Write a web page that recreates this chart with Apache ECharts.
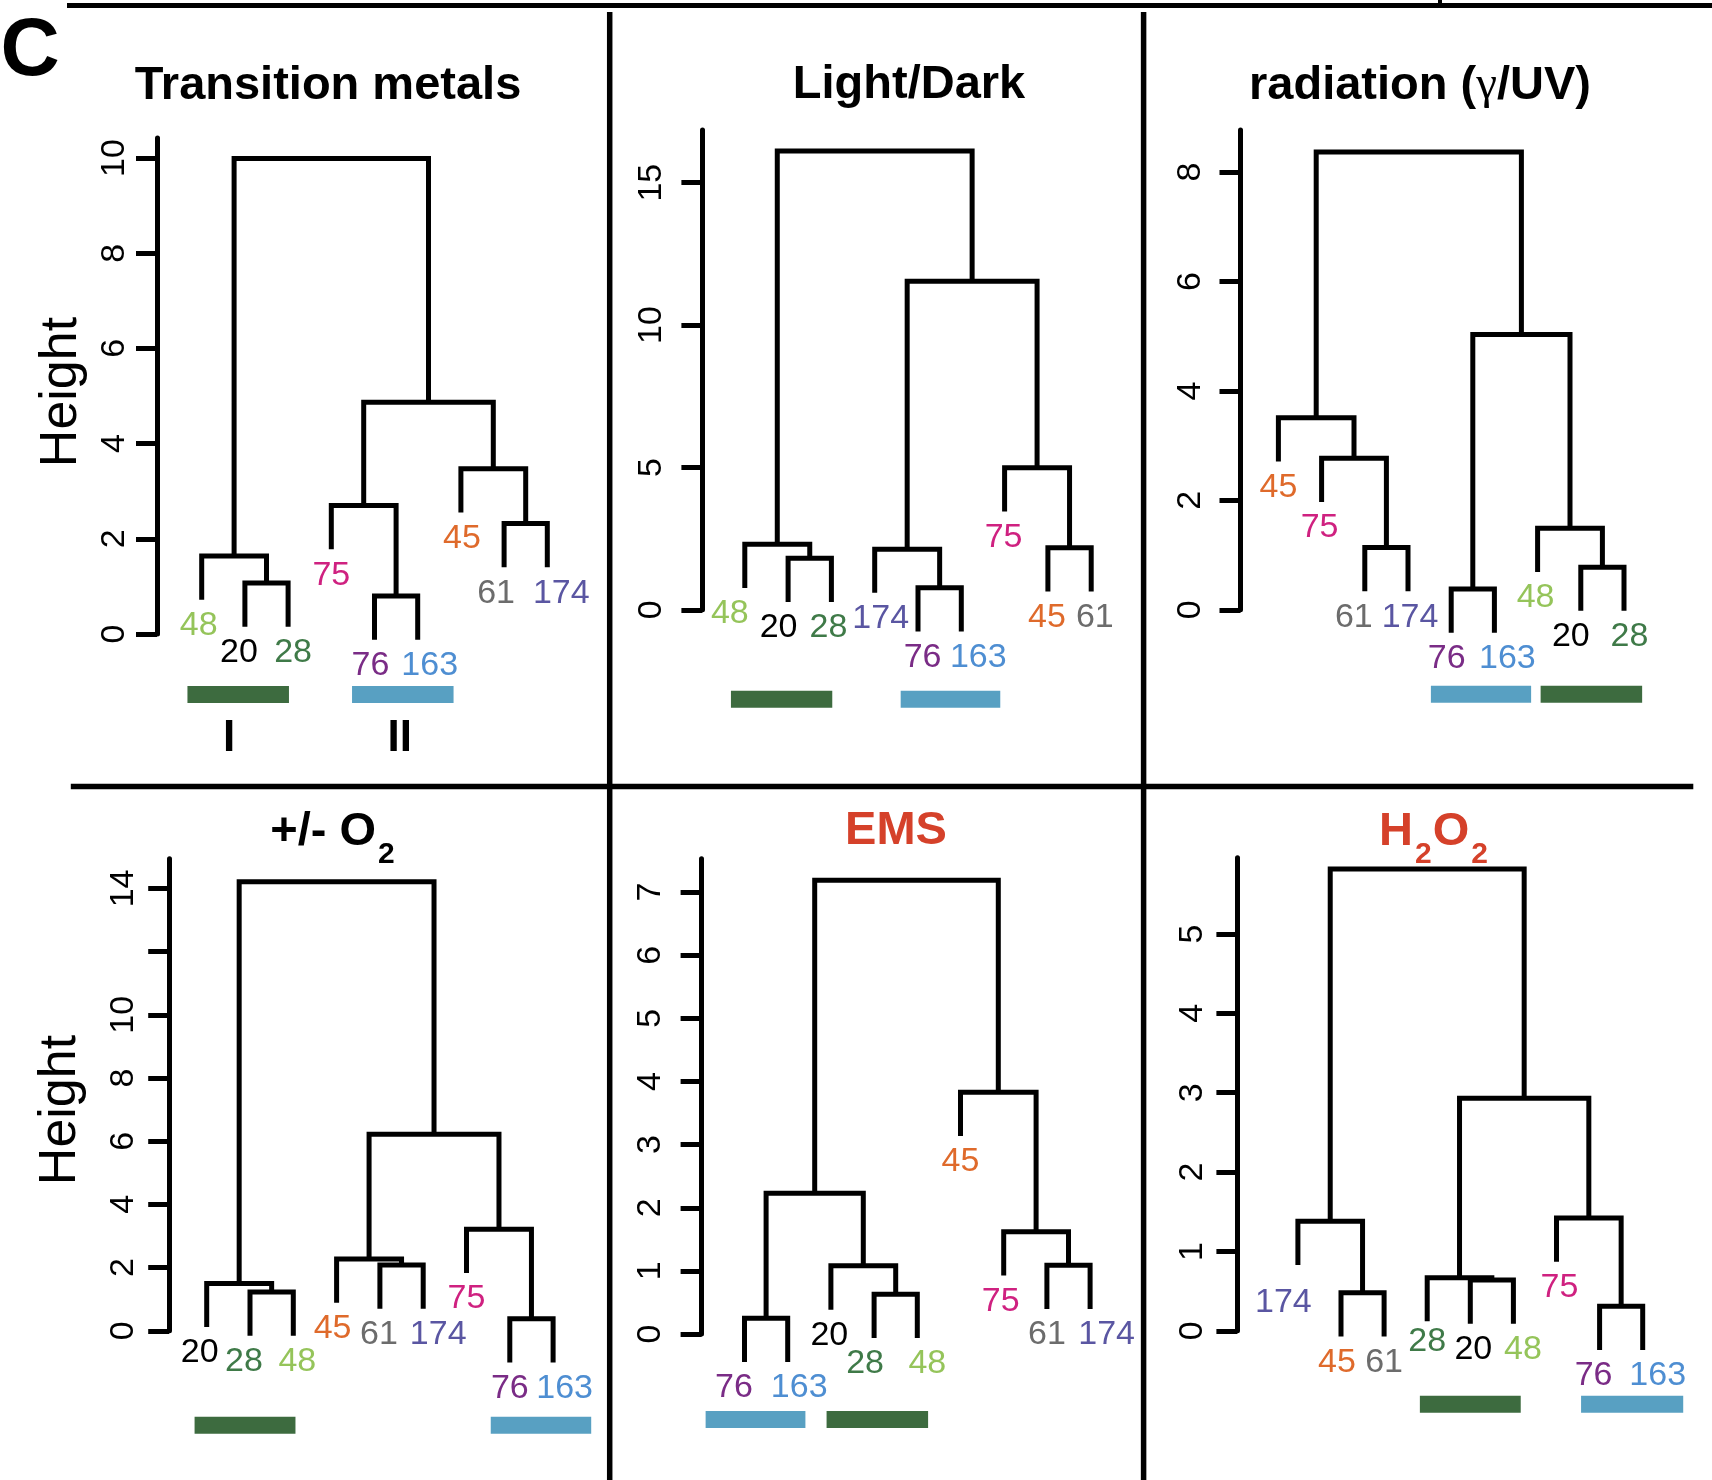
<!DOCTYPE html>
<html><head><meta charset="utf-8">
<script src="https://cdn.jsdelivr.net/npm/echarts@6/dist/echarts.min.js"></script>
<style>html,body{margin:0;padding:0;background:#fff}#c{width:1712px;height:1480px}</style>
</head><body><div id="c"></div>
<script>
// ================= DATA =================
// Leaf order (left to right) for each dendrogram
const leavesTM  = ['48','20','28','75','76','163','45','61','174'];
const leavesLD  = ['48','20','28','174','76','163','75','45','61'];
const leavesRAD = ['45','75','61','174','76','163','48','20','28'];
const leavesO2  = ['20','28','48','45','61','174','75','76','163'];
const leavesEMS = ['76','163','20','28','48','45','75','61','174'];
const leavesH2O2= ['174','45','61','28','20','48','75','76','163'];

// Merges (R hclust style): negative = leaf position (1-based), positive = earlier merge (1-based); third = height
const mergesTM  = [[-2,-3,1.07],[-1,1,1.64],[-5,-6,0.80],[-4,3,2.70],[-8,-9,2.32],[-7,5,3.47],[4,6,4.87],[2,7,9.99]];
const mergesLD  = [[-2,-3,1.81],[-1,1,2.30],[-5,-6,0.77],[-4,3,2.13],[-8,-9,2.18],[-7,5,4.99],[4,6,11.54],[2,7,16.11]];
const mergesRAD = [[-3,-4,1.14],[-2,1,2.77],[-1,2,3.51],[-5,-6,0.38],[-8,-9,0.78],[-7,5,1.49],[4,6,5.03],[3,7,8.37]];
const mergesO2  = [[-2,-3,1.23],[-1,1,1.50],[-5,-6,2.08],[-4,3,2.27],[-8,-9,0.38],[-7,5,3.21],[4,6,6.22],[2,7,14.21]];
const mergesEMS = [[-1,-2,0.25],[-4,-5,0.63],[-3,2,1.08],[1,3,2.23],[-8,-9,1.09],[-7,5,1.62],[-6,6,3.83],[4,7,7.19]];
const mergesH2O2= [[-2,-3,0.48],[-1,1,1.38],[-5,-6,0.64],[-4,3,0.67],[-8,-9,0.31],[-7,5,1.42],[4,6,2.93],[2,7,5.82]];

// Cluster groups: [group, from leaf pos, to leaf pos]
const groupsTM  = [['I',-0.33,2.02],['II',3.48,5.83]];
const groupsLD  = [['I',-0.32,2.02],['II',3.60,5.90]];
const groupsRAD = [['II',3.53,5.85],['I',6.07,8.42]];
const groupsO2  = [['I',-0.28,2.05],['II',6.56,8.88]];
const groupsEMS = [['II',-0.90,1.41],['I',1.90,4.25]];
const groupsH2O2= [['I',2.83,5.17],['II',6.57,8.94]];

// Axis ticks / labels / upper end of axis
const ticksTM  = [0,2,4,6,8,10];          const tickLabelsTM  = [0,2,4,6,8,10];
const ticksLD  = [0,5,10,15];             const tickLabelsLD  = [0,5,10,15];
const ticksRAD = [0,2,4,6,8];             const tickLabelsRAD = [0,2,4,6,8];
const ticksO2  = [0,2,4,6,8,10,12,14];    const tickLabelsO2  = [0,2,4,6,8,10,14];
const ticksEMS = [0,1,2,3,4,5,6,7];       const tickLabelsEMS = [0,1,2,3,4,5,6,7];
const ticksH2O2= [0,1,2,3,4,5];           const tickLabelsH2O2= [0,1,2,3,4,5];
const yMaxes = [10.42, 16.85, 8.77, 14.94, 7.53, 5.96];

const panelTitles = ['Transition metals','Light/Dark','radiation ({g|γ}/UV)','+/- O{s|2}','EMS','H{s|2}O{s|2}'];

// ================= STYLE / LAYOUT =================
const FONT = '"Liberation Sans", Arial, Helvetica, sans-serif';
const labelColors = {'48':'#95c45a','20':'#000000','28':'#3f7a48','75':'#cf2180','76':'#7a2c86',
                     '163':'#4e8ed2','45':'#df6a2b','61':'#6c6c6c','174':'#5a56a2'};
const groupColors = {'I':'#3d6b3f','II':'#58a0c2'};
const RED = '#d5412a';
const LW = 5;

// label nudges (pixels) by leaf position, to keep neighbouring labels apart
const nudgeTM  = [-3,-6,5,0,-4,12,1,-8,14];
const nudgeLD  = [-15,-9.5,-3,6,4.6,17,-1,-1,3.6];
const nudgeRAD = [0,-2,-11,2,-4.5,13,-2,-10,5.5];
const nudgeO2  = [-7,-6,4,-4,-1,15,0,0,11.5];
const nudgeEMS = [-10.5,11.5,-1.6,-9,10,0,-3,0,16.5];
const nudgeH2O2= [-14.5,-4,0,0,3,9.5,3,-6,15];
const nudgeYH2O2 = [12,0,0,-6,0,0,0,0,0];

const PANELS = [
 {leaves:leavesTM, merges:mergesTM, groups:groupsTM, ticks:ticksTM, tl:tickLabelsTM, title:panelTitles[0], tc:'#000', dx:nudgeTM,
  L:{axisX:157, topY:138, zeroY:634, leaf0X:201.7, sp:43.2, barOff:52, lm:25}, tp:[328,86], groupText:true, height:[62,392]},
 {leaves:leavesLD, merges:mergesLD, groups:groupsLD, ticks:ticksLD, tl:tickLabelsLD, title:panelTitles[1], tc:'#000', dx:nudgeLD,
  L:{axisX:702.4, topY:130, zeroY:609.8, leaf0X:744.8, sp:43.3, barOff:81, lm:34}, tp:[909,85]},
 {leaves:leavesRAD, merges:mergesRAD, groups:groupsRAD, ticks:ticksRAD, tl:tickLabelsRAD, title:panelTitles[2], tc:'#000', dx:nudgeRAD,
  L:{axisX:1240.5, topY:130, zeroY:609.8, leaf0X:1278.4, sp:43.2, barOff:76, lm:33}, tp:[1420,86]},
 {leaves:leavesO2, merges:mergesO2, groups:groupsO2, ticks:ticksO2, tl:tickLabelsO2, title:panelTitles[3], tc:'#000', dx:nudgeO2,
  L:{axisX:169.2, topY:858.7, zeroY:1330.8, leaf0X:206.7, sp:43.3, barOff:86, lm:29}, tp:[333,832], height:[61,1110]},
 {leaves:leavesEMS, merges:mergesEMS, groups:groupsEMS, ticks:ticksEMS, tl:tickLabelsEMS, title:panelTitles[4], tc:RED, dx:nudgeEMS,
  L:{axisX:701.6, topY:858.7, zeroY:1334, leaf0X:744.5, sp:43.2, barOff:77, lm:34}, tp:[896,831]},
 {leaves:leavesH2O2, merges:mergesH2O2, groups:groupsH2O2, ticks:ticksH2O2, tl:tickLabelsH2O2, title:panelTitles[5], tc:RED, dx:nudgeH2O2, dy:nudgeYH2O2,
  L:{axisX:1237.4, topY:857.8, zeroY:1330.8, leaf0X:1297.9, sp:43.1, barOff:65, lm:28}, tp:[1434,832]}
];

// build dendrogram geometry in data space (x = leaf position, y = height)
function layoutTree(leaves, merges) {
  const hs = merges.map(m => m[2]);
  const hang = 0.1 * (Math.max(...hs) - Math.min(...hs));
  const nodes = [], segs = [], tips = [];
  merges.forEach(([a, b, h]) => {
    const ends = [a, b].map(c => {
      if (c < 0) { const li = -c - 1; tips.push([li, h - hang, leaves[li]]); return [li, h - hang]; }
      return nodes[c - 1];
    });
    segs.push([ends[0][0], ends[0][1], ends[1][0], ends[1][1], h]);
    nodes.push([(ends[0][0] + ends[1][0]) / 2, h]);
  });
  return {segs, tips};
}

const chart = echarts.init(document.getElementById('c'), null, {renderer:'canvas', width:1712, height:1480});
const grids = [], xAxes = [], yAxes = [], series = [], graphics = [];

PANELS.forEach((p, i) => {
  const L = p.L;
  const xmin = -(L.leaf0X - L.axisX) / L.sp;
  const xmax = p.leaves.length - 0.5;
  grids.push({left:L.axisX, top:L.topY, height:L.zeroY - L.topY, width:(xmax - xmin) * L.sp,
              containLabel:false, outerBoundsMode:'none'});
  xAxes.push({gridIndex:i, type:'value', min:xmin, max:xmax, show:false});
  yAxes.push({gridIndex:i, type:'value', min:0, max:yMaxes[i], splitLine:{show:false},
    axisLine:{show:true, onZero:false, lineStyle:{color:'#000', width:LW}},
    axisTick:{show:true, length:21, lineStyle:{color:'#000', width:LW}, customValues:p.ticks},
    axisLabel:{show:true, rotate:90, margin:L.lm, fontSize:34, color:'#000', fontFamily:FONT, customValues:p.tl}});

  const t = layoutTree(p.leaves, p.merges);
  series.push({type:'custom', xAxisIndex:i, yAxisIndex:i, silent:true, clip:false, data:t.segs,
    renderItem:(params, api) => {
      const a = api.coord([api.value(0), api.value(1)]);
      const b = api.coord([api.value(0), api.value(4)]);
      const c = api.coord([api.value(2), api.value(4)]);
      const d = api.coord([api.value(2), api.value(3)]);
      return {type:'polyline', shape:{points:[a, b, c, d]},
              style:{stroke:'#000', lineWidth:LW, fill:null, lineJoin:'miter', lineCap:'butt'}};
    }});
  series.push({type:'custom', xAxisIndex:i, yAxisIndex:i, silent:true, clip:false,
    data:t.tips.map(q => [q[0], q[1]]),
    renderItem:(params, api) => {
      const tip = t.tips[params.dataIndex];
      const pt = api.coord([api.value(0), api.value(1)]);
      const li = tip[0], name = tip[2];
      const dx = p.dx ? p.dx[li] : 0, dy = p.dy ? p.dy[li] : 0;
      return {type:'text', x:pt[0] + dx, y:pt[1] + 9 + dy,
              style:{text:name, fill:labelColors[name], fontSize:34, fontFamily:FONT, align:'center', verticalAlign:'top'}};
    }});
  series.push({type:'custom', xAxisIndex:i, yAxisIndex:i, silent:true, clip:false,
    data:p.groups.map(g => [g[1], g[2]]),
    renderItem:(params, api) => {
      const g = p.groups[params.dataIndex];
      const s = api.coord([api.value(0), 0]);
      const e = api.coord([api.value(1), 0]);
      const children = [{type:'rect', shape:{x:s[0], y:s[1] + L.barOff, width:e[0] - s[0], height:17},
                         style:{fill:groupColors[g[0]]}}];
      if (p.groupText) children.push({type:'text', x:(s[0] + e[0]) / 2 - (g[0] === 'I' ? 9 : 3), y:s[1] + 105,
         style:{text:g[0], fill:'#000', fontSize:44, fontWeight:'bold', fontFamily:FONT, align:'center', verticalAlign:'middle'}});
      return {type:'group', children};
    }});

  graphics.push({type:'text', x:p.tp[0], y:p.tp[1], silent:true,
    style:{text:p.title, fill:p.tc, fontSize:47, fontWeight:'bold', fontFamily:FONT, align:'center', verticalAlign:'middle',
      rich:{s:{fontSize:30, fontWeight:'bold', fontFamily:FONT, fill:p.tc, padding:[46,1,0,2]},
            g:{fontSize:47, fontWeight:'normal', fontFamily:'"Liberation Serif", "DejaVu Serif", serif', fill:p.tc}}}});
  if (p.height) graphics.push({type:'text', x:p.height[0], y:p.height[1], rotation:Math.PI / 2, silent:true,
    style:{text:'Height', fill:'#000', fontSize:52, fontFamily:FONT, align:'center', verticalAlign:'middle'}});
});

// frame lines and panel letter
const ln = (x1, y1, x2, y2, w) => ({type:'line', silent:true, shape:{x1, y1, x2, y2}, style:{stroke:'#000', lineWidth:w}});
graphics.push(ln(67, 5.5, 1712, 5.5, 5), ln(1440, 0, 1440, 6, 4),
  ln(609.7, 12, 609.7, 1480, 5.5), ln(1143.6, 12, 1143.6, 1480, 5.5), ln(70.8, 786.6, 1693.3, 786.6, 5.5));
graphics.push({type:'text', x:30, y:52, silent:true,
  style:{text:'C', fill:'#000', fontSize:82, fontWeight:'bold', fontFamily:FONT, align:'center', verticalAlign:'middle'}});

chart.setOption({backgroundColor:'#fff', animation:false, grid:grids, xAxis:xAxes, yAxis:yAxes, series, graphic:graphics});
</script></body></html>
